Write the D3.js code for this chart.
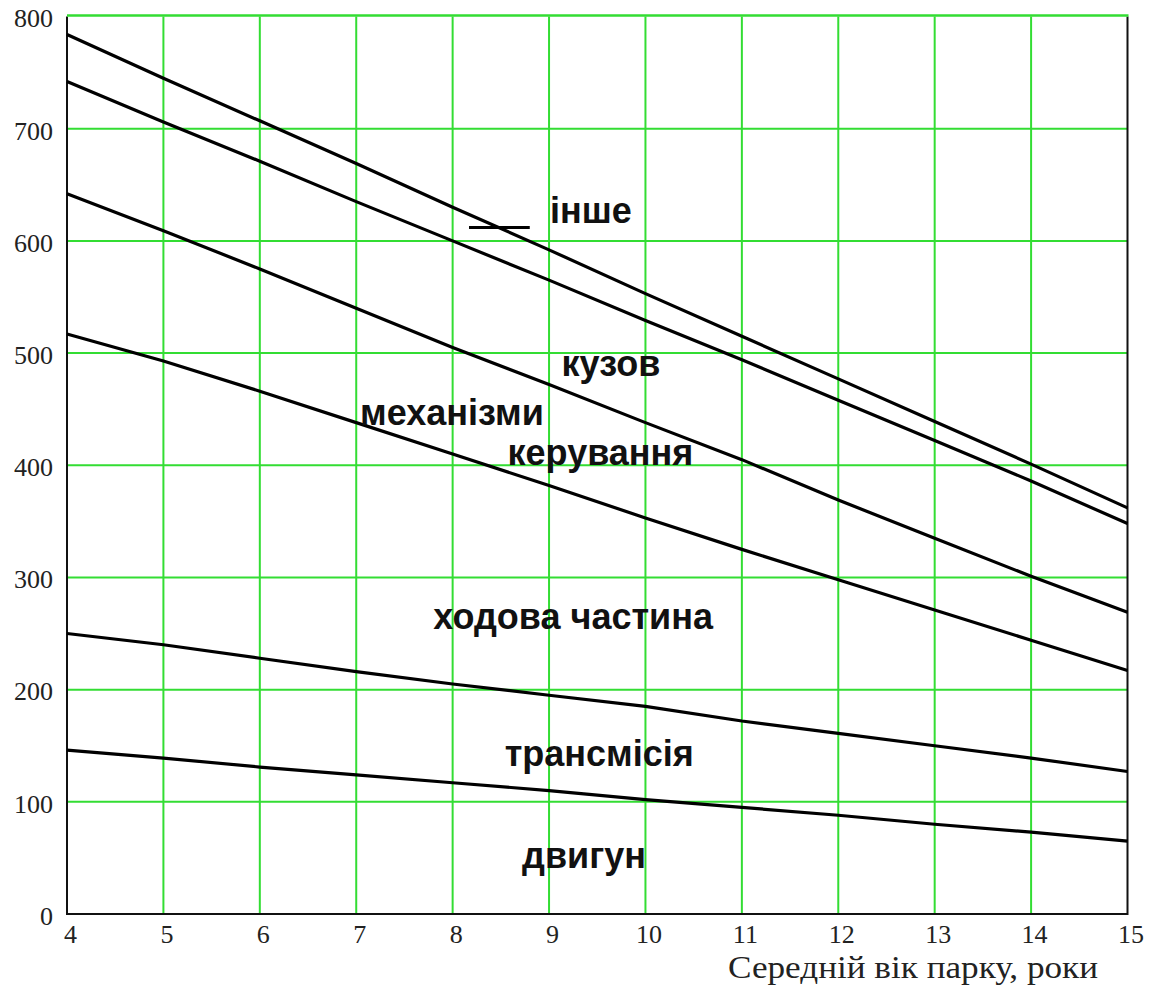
<!DOCTYPE html>
<html>
<head>
<meta charset="utf-8">
<script src="https://cdn.jsdelivr.net/npm/d3@7"></script>
<style>
  html, body { margin: 0; padding: 0; background: #fff; }
  svg { display: block; }
</style>
</head>
<body>
<svg id="chart" width="1153" height="991"></svg>
<script>
// ---- data ----
const years = [4, 5, 6, 7, 8, 9, 10, 11, 12, 13, 14, 15];
const inshe      = [784, 745, 707, 669, 630, 592, 553, 515, 477, 439, 401, 362];
const kuzov      = [742, 706, 671, 635, 600, 565, 529, 494, 458, 422, 386, 348];
const mekhanizmy = [642, 609, 575, 540, 505, 472, 438, 405, 369, 335, 301, 269];
const khodova    = [517, 493, 466, 438, 410, 382, 353, 325, 298, 271, 244, 217];
const transmisia = [250, 240, 228, 216, 205, 195, 185, 172, 161, 150, 139, 127];
const dvygun     = [146, 139, 131, 124, 117, 110, 102, 95, 88, 80, 73, 65];
const seriesNames = ["інше", "кузов", "механізми керування", "ходова частина", "трансмісія", "двигун"];
const xTicks = [4, 5, 6, 7, 8, 9, 10, 11, 12, 13, 14, 15];
const yTicks = [0, 100, 200, 300, 400, 500, 600, 700, 800];
const xTitle = "Середній вік парку, роки";
// label texts with anchor (year, value) of their left baseline
const labelTexts = ["інше", "кузов", "механізми", "керування", "ходова частина", "трансмісія", "двигун"];
const labelYears = [9.01, 9.13, 7.04, 8.57, 7.80, 8.54, 8.72];
const labelValues = [616, 480, 436, 400, 254, 132, 41];
const leaderYears = [8.17, 8.80];
const leaderValue = 612;

// ---- layout ----
const mLeft = 67, mRight = 1127.5, mTop = 16.5, mBottom = 914;
const x = d3.scaleLinear().domain([4, 15]).range([mLeft, mRight]);
const y = d3.scaleLinear().domain([0, 800]).range([mBottom, mTop]);
const svg = d3.select("#chart");
const green = "#33dd33";

// grid
svg.append("g").selectAll("line").data(xTicks.slice(1, -1)).join("line")
  .attr("x1", d => x(d)).attr("x2", d => x(d))
  .attr("y1", mTop).attr("y2", mBottom)
  .attr("stroke", green).attr("stroke-width", 2);
svg.append("g").selectAll("line").data(yTicks.slice(1, -1)).join("line")
  .attr("x1", mLeft).attr("x2", mRight)
  .attr("y1", d => y(d)).attr("y2", d => y(d))
  .attr("stroke", green).attr("stroke-width", 2);

// frame
svg.append("path")
  .attr("d", `M${mLeft},${mTop}V${mBottom}H${mRight}V${mTop}`)
  .attr("fill", "none").attr("stroke", "#111").attr("stroke-width", 2);
svg.append("line")
  .attr("x1", mLeft).attr("x2", mRight + 1)
  .attr("y1", y(800) - 1).attr("y2", y(800) - 1)
  .attr("stroke", green).attr("stroke-width", 2.5);

// axes (labels only)
const xAxis = d3.axisBottom(x).tickValues(xTicks).tickSize(0).tickPadding(0).tickFormat(d3.format("d"));
const gx = svg.append("g").attr("transform", `translate(3,${mBottom})`).call(xAxis);
gx.select(".domain").remove();
gx.selectAll("text").attr("dy", null).attr("y", 29)
  .attr("font-family", "'Liberation Serif', 'Times New Roman', serif")
  .attr("font-size", 26).attr("fill", "#222");

const yAxis = d3.axisLeft(y).tickValues(yTicks).tickSize(0).tickPadding(14).tickFormat(d3.format("d"));
const gy = svg.append("g").attr("transform", `translate(${mLeft},2)`).call(yAxis);
gy.select(".domain").remove();
gy.selectAll("text")
  .attr("font-family", "'Liberation Serif', 'Times New Roman', serif")
  .attr("font-size", 26).attr("fill", "#222");

// x title
svg.append("text")
  .attr("x", 728).attr("y", 978)
  .attr("font-family", "'Liberation Serif', 'Times New Roman', serif")
  .attr("font-size", 31).attr("fill", "#222")
  .attr("textLength", 370).attr("lengthAdjust", "spacingAndGlyphs")
  .text(xTitle);

// series lines
const allSeries = [inshe, kuzov, mekhanizmy, khodova, transmisia, dvygun];
const line = d3.line().x((d, i) => x(years[i])).y(d => y(d));
svg.append("g").selectAll("path").data(allSeries).join("path")
  .attr("d", d => line(d))
  .attr("fill", "none").attr("stroke", "#000").attr("stroke-width", 3.2)
  .attr("data-name", (d, i) => seriesNames[i]);

// leader
svg.append("line")
  .attr("x1", x(leaderYears[0])).attr("x2", x(leaderYears[1]))
  .attr("y1", y(leaderValue)).attr("y2", y(leaderValue))
  .attr("stroke", "#000").attr("stroke-width", 3);

// labels
svg.append("g").selectAll("text").data(labelTexts).join("text")
  .attr("x", (d, i) => x(labelYears[i]))
  .attr("y", (d, i) => y(labelValues[i]))
  .attr("font-family", "'Liberation Sans', Arial, sans-serif")
  .attr("font-weight", "bold").attr("font-size", 36).attr("fill", "#111")
  .text(d => d);
</script>
</body>
</html>
